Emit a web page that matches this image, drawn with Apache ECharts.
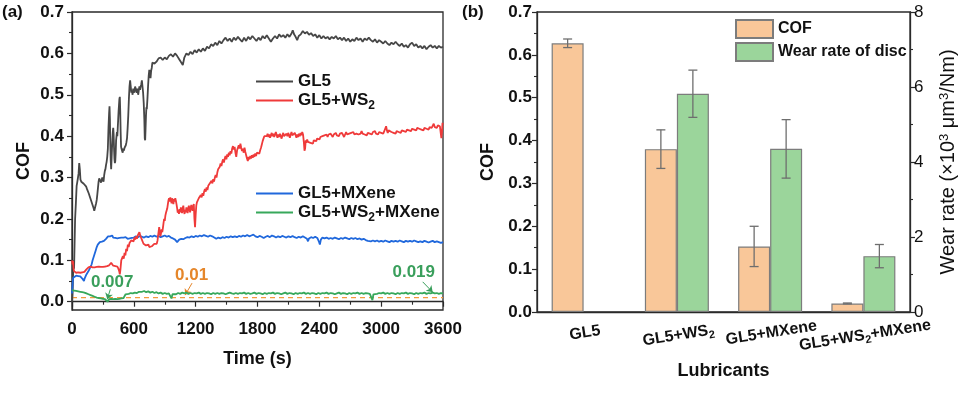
<!DOCTYPE html>
<html><head><meta charset="utf-8">
<script src="https://cdn.jsdelivr.net/npm/echarts@6/dist/echarts.min.js"></script>
<style>html,body{margin:0;padding:0;background:#fff}#c{width:960px;height:396px}</style>
</head><body><div id="c"></div>
<script>
// ---------- Panel (a): COF vs time ----------
const seriesNamesA = ['GL5', 'GL5+WS₂', 'GL5+MXene', 'GL5+WS₂+MXene'];
const gl5 = [[0,0.0],[5,0.02],[10,0.06],[15,0.1],[20,0.08],[25,0.14],[30,0.2],[38,0.24],[45,0.28],[52,0.29],[58,0.3],[64,0.31],[70,0.335],[76,0.32],[82,0.295],[90,0.29],[98,0.288],[106,0.292],[114,0.285],[122,0.282],[130,0.283],[138,0.278],[146,0.272],[154,0.268],[162,0.262],[170,0.258],[178,0.25],[186,0.244],[194,0.238],[202,0.232],[210,0.226],[216,0.22],[222,0.226],[228,0.232],[234,0.238],[240,0.246],[246,0.26],[252,0.275],[258,0.29],[264,0.298],[270,0.302],[276,0.296],[282,0.288],[288,0.292],[294,0.3],[300,0.296],[306,0.29],[312,0.305],[318,0.315],[324,0.32],[330,0.33],[336,0.338],[342,0.35],[348,0.37],[354,0.42],[360,0.455],[364,0.472],[368,0.44],[372,0.38],[376,0.34],[380,0.32],[384,0.345],[388,0.37],[392,0.39],[396,0.41],[400,0.42],[404,0.405],[408,0.37],[412,0.345],[416,0.335],[420,0.34],[424,0.36],[428,0.39],[432,0.4],[436,0.41],[440,0.4],[444,0.42],[448,0.44],[452,0.46],[456,0.475],[460,0.49],[464,0.495],[468,0.46],[472,0.41],[476,0.375],[480,0.37],[486,0.365],[492,0.36],[498,0.37],[504,0.365],[510,0.372],[516,0.368],[522,0.378],[528,0.385],[534,0.395],[540,0.42],[546,0.45],[552,0.49],[558,0.52],[564,0.535],[570,0.52],[576,0.505],[582,0.51],[588,0.5],[594,0.515],[600,0.512],[606,0.505],[612,0.52],[618,0.515],[624,0.51],[630,0.505],[636,0.515],[642,0.5],[648,0.51],[654,0.52],[660,0.512],[666,0.52],[672,0.525],[678,0.535],[684,0.52],[690,0.505],[696,0.48],[702,0.44],[706,0.395],[710,0.39],[714,0.42],[718,0.45],[722,0.47],[726,0.465],[732,0.49],[738,0.52],[744,0.545],[750,0.56],[756,0.555],[762,0.54],[768,0.558],[774,0.565],[780,0.578],[786,0.582],[792,0.575],[800,0.575],[820,0.58],[840,0.588],[860,0.59],[880,0.584],[900,0.59],[920,0.586],[940,0.594],[960,0.598],[980,0.592],[1000,0.6],[1020,0.594],[1040,0.586],[1060,0.578],[1075,0.572],[1090,0.59],[1110,0.6],[1130,0.596],[1150,0.604],[1170,0.598],[1190,0.608],[1210,0.602],[1230,0.61],[1250,0.604],[1270,0.612],[1290,0.606],[1310,0.616],[1330,0.612],[1350,0.622],[1370,0.618],[1390,0.626],[1410,0.62],[1430,0.63],[1450,0.624],[1470,0.632],[1490,0.638],[1510,0.63],[1530,0.636],[1550,0.628],[1570,0.638],[1590,0.632],[1610,0.64],[1630,0.634],[1650,0.628],[1670,0.638],[1690,0.63],[1710,0.64],[1730,0.634],[1750,0.642],[1770,0.636],[1790,0.63],[1810,0.638],[1830,0.632],[1850,0.642],[1870,0.636],[1890,0.644],[1910,0.636],[1930,0.628],[1950,0.636],[1970,0.642],[1990,0.636],[2010,0.646],[2030,0.64],[2050,0.644],[2070,0.638],[2090,0.646],[2110,0.64],[2130,0.648],[2142,0.656],[2155,0.646],[2170,0.64],[2185,0.632],[2200,0.642],[2220,0.646],[2240,0.654],[2260,0.648],[2280,0.652],[2300,0.645],[2320,0.649],[2340,0.642],[2360,0.646],[2380,0.638],[2400,0.644],[2420,0.636],[2440,0.642],[2460,0.636],[2480,0.64],[2500,0.634],[2520,0.64],[2540,0.636],[2560,0.642],[2580,0.634],[2600,0.638],[2620,0.632],[2640,0.638],[2660,0.63],[2680,0.636],[2700,0.628],[2720,0.634],[2740,0.63],[2760,0.638],[2780,0.632],[2800,0.636],[2820,0.628],[2840,0.636],[2860,0.632],[2880,0.638],[2900,0.632],[2920,0.628],[2940,0.634],[2960,0.626],[2980,0.632],[3000,0.628],[3020,0.624],[3040,0.63],[3060,0.624],[3080,0.62],[3100,0.626],[3120,0.622],[3140,0.628],[3160,0.622],[3180,0.618],[3200,0.624],[3220,0.616],[3240,0.62],[3260,0.614],[3280,0.622],[3300,0.626],[3320,0.618],[3340,0.622],[3360,0.614],[3380,0.618],[3400,0.612],[3420,0.618],[3440,0.61],[3460,0.616],[3480,0.62],[3500,0.614],[3520,0.618],[3540,0.612],[3560,0.618],[3580,0.614],[3600,0.616]];
const gl5ws2 = [[0,0.1],[5,0.09],[10,0.098],[15,0.08],[20,0.074],[30,0.072],[40,0.07],[50,0.073],[60,0.071],[70,0.072],[80,0.07],[90,0.073],[100,0.071],[110,0.074],[120,0.072],[130,0.075],[140,0.078],[150,0.08],[160,0.083],[170,0.082],[180,0.085],[190,0.084],[200,0.083],[210,0.085],[220,0.083],[230,0.086],[240,0.084],[250,0.082],[260,0.085],[270,0.083],[280,0.084],[290,0.086],[300,0.084],[310,0.087],[320,0.085],[330,0.088],[340,0.086],[350,0.09],[360,0.088],[370,0.092],[380,0.094],[390,0.09],[400,0.087],[410,0.084],[420,0.086],[430,0.082],[440,0.085],[450,0.08],[458,0.074],[464,0.066],[470,0.078],[478,0.1],[486,0.096],[494,0.11],[502,0.104],[510,0.118],[518,0.112],[526,0.128],[534,0.122],[542,0.138],[550,0.132],[558,0.142],[566,0.138],[574,0.148],[582,0.144],[590,0.152],[598,0.146],[606,0.155],[614,0.15],[622,0.158],[630,0.152],[638,0.16],[646,0.164],[654,0.168],[662,0.16],[670,0.156],[678,0.15],[686,0.145],[694,0.14],[702,0.136],[710,0.142],[718,0.136],[726,0.14],[734,0.134],[742,0.138],[750,0.132],[758,0.136],[766,0.13],[774,0.134],[782,0.138],[790,0.132],[798,0.14],[806,0.136],[814,0.144],[822,0.14],[830,0.148],[838,0.144],[846,0.18],[852,0.17],[858,0.158],[864,0.166],[870,0.175],[876,0.168],[882,0.178],[888,0.19],[894,0.2],[900,0.195],[906,0.208],[912,0.215],[918,0.212],[924,0.225],[930,0.235],[936,0.245],[942,0.25],[948,0.242],[954,0.252],[960,0.246],[966,0.238],[972,0.25],[978,0.244],[984,0.236],[990,0.248],[996,0.242],[1002,0.25],[1008,0.244],[1014,0.236],[1020,0.226],[1026,0.215],[1032,0.222],[1038,0.212],[1044,0.224],[1050,0.216],[1056,0.228],[1062,0.22],[1068,0.214],[1074,0.226],[1080,0.232],[1086,0.22],[1092,0.212],[1098,0.222],[1104,0.216],[1110,0.228],[1116,0.22],[1122,0.214],[1128,0.226],[1134,0.232],[1140,0.222],[1146,0.216],[1152,0.228],[1158,0.234],[1164,0.226],[1170,0.22],[1176,0.23],[1182,0.236],[1188,0.2],[1194,0.18],[1200,0.21],[1206,0.232],[1212,0.24],[1218,0.236],[1224,0.244],[1230,0.25],[1236,0.246],[1242,0.254],[1250,0.258],[1258,0.252],[1266,0.262],[1274,0.256],[1282,0.266],[1290,0.272],[1298,0.266],[1306,0.276],[1314,0.27],[1322,0.28],[1330,0.276],[1338,0.286],[1346,0.282],[1354,0.292],[1362,0.286],[1370,0.296],[1378,0.29],[1386,0.3],[1394,0.306],[1402,0.3],[1410,0.312],[1418,0.32],[1426,0.316],[1434,0.326],[1442,0.334],[1450,0.328],[1458,0.338],[1466,0.344],[1474,0.336],[1482,0.346],[1490,0.352],[1498,0.344],[1506,0.356],[1514,0.35],[1522,0.36],[1530,0.354],[1538,0.364],[1546,0.358],[1554,0.37],[1562,0.376],[1570,0.368],[1578,0.374],[1586,0.36],[1594,0.35],[1602,0.366],[1610,0.372],[1618,0.378],[1626,0.37],[1634,0.382],[1642,0.372],[1650,0.364],[1658,0.37],[1666,0.36],[1674,0.372],[1682,0.362],[1690,0.354],[1698,0.346],[1706,0.34],[1714,0.35],[1722,0.344],[1730,0.352],[1738,0.346],[1746,0.354],[1754,0.348],[1762,0.356],[1770,0.35],[1778,0.358],[1786,0.352],[1794,0.36],[1802,0.356],[1810,0.364],[1818,0.358],[1826,0.366],[1834,0.372],[1842,0.38],[1850,0.388],[1858,0.394],[1866,0.4],[1874,0.396],[1882,0.404],[1890,0.4],[1898,0.406],[1906,0.398],[1914,0.404],[1922,0.396],[1930,0.402],[1938,0.408],[1946,0.4],[1954,0.406],[1962,0.398],[1970,0.404],[1978,0.41],[1986,0.402],[1994,0.396],[2002,0.404],[2010,0.398],[2018,0.406],[2026,0.4],[2034,0.394],[2042,0.402],[2050,0.408],[2058,0.4],[2066,0.404],[2074,0.398],[2082,0.406],[2090,0.4],[2098,0.408],[2106,0.402],[2114,0.396],[2122,0.404],[2130,0.41],[2138,0.402],[2146,0.406],[2154,0.4],[2162,0.408],[2170,0.402],[2178,0.396],[2186,0.404],[2194,0.398],[2202,0.406],[2210,0.4],[2218,0.408],[2226,0.402],[2234,0.41],[2242,0.404],[2250,0.385],[2256,0.365],[2262,0.37],[2268,0.39],[2274,0.384],[2282,0.392],[2290,0.386],[2298,0.382],[2306,0.39],[2314,0.384],[2322,0.38],[2330,0.388],[2338,0.382],[2346,0.39],[2354,0.386],[2362,0.392],[2370,0.388],[2378,0.394],[2386,0.39],[2394,0.396],[2402,0.392],[2410,0.398],[2420,0.394],[2430,0.4],[2440,0.396],[2450,0.402],[2460,0.398],[2470,0.404],[2480,0.398],[2490,0.404],[2500,0.4],[2510,0.406],[2520,0.402],[2530,0.398],[2540,0.404],[2550,0.4],[2560,0.408],[2570,0.402],[2580,0.406],[2590,0.4],[2600,0.406],[2610,0.402],[2620,0.408],[2630,0.404],[2640,0.398],[2650,0.404],[2660,0.41],[2670,0.404],[2680,0.4],[2690,0.406],[2700,0.402],[2710,0.408],[2720,0.404],[2730,0.41],[2740,0.404],[2750,0.4],[2760,0.406],[2770,0.41],[2780,0.404],[2790,0.4],[2800,0.406],[2810,0.412],[2820,0.406],[2830,0.41],[2840,0.404],[2850,0.408],[2860,0.402],[2870,0.408],[2880,0.412],[2890,0.406],[2900,0.41],[2910,0.404],[2920,0.41],[2930,0.406],[2940,0.412],[2950,0.406],[2960,0.41],[2970,0.404],[2980,0.41],[2990,0.414],[3000,0.408],[3010,0.412],[3020,0.406],[3030,0.412],[3040,0.416],[3048,0.424],[3056,0.414],[3064,0.408],[3072,0.414],[3080,0.41],[3090,0.416],[3100,0.41],[3110,0.414],[3120,0.408],[3130,0.412],[3140,0.406],[3150,0.412],[3160,0.416],[3170,0.41],[3180,0.414],[3190,0.408],[3200,0.414],[3210,0.418],[3220,0.412],[3230,0.416],[3240,0.41],[3250,0.416],[3260,0.42],[3270,0.414],[3280,0.418],[3290,0.412],[3300,0.418],[3310,0.422],[3320,0.416],[3330,0.42],[3340,0.414],[3350,0.42],[3360,0.424],[3370,0.418],[3380,0.422],[3390,0.416],[3400,0.42],[3410,0.414],[3420,0.42],[3430,0.424],[3440,0.418],[3450,0.422],[3460,0.416],[3470,0.422],[3480,0.426],[3490,0.42],[3500,0.424],[3510,0.43],[3520,0.422],[3530,0.426],[3540,0.42],[3550,0.426],[3560,0.43],[3570,0.424],[3578,0.428],[3584,0.395],[3590,0.41],[3595,0.432],[3600,0.428]];
const gl5mx = [[0,0.02],[4,0.035],[8,0.05],[12,0.058],[20,0.062],[30,0.06],[40,0.063],[50,0.06],[60,0.062],[70,0.059],[80,0.061],[90,0.058],[100,0.056],[110,0.053],[116,0.05],[122,0.056],[130,0.06],[140,0.066],[150,0.07],[160,0.074],[170,0.078],[180,0.084],[190,0.09],[200,0.1],[210,0.108],[220,0.116],[230,0.124],[240,0.132],[250,0.138],[260,0.142],[270,0.144],[280,0.146],[290,0.145],[300,0.148],[310,0.147],[320,0.15],[330,0.152],[340,0.155],[350,0.158],[360,0.16],[370,0.158],[380,0.156],[390,0.16],[400,0.155],[410,0.157],[420,0.154],[430,0.156],[440,0.153],[450,0.156],[460,0.154],[470,0.157],[480,0.155],[490,0.152],[500,0.155],[510,0.153],[520,0.156],[530,0.154],[540,0.152],[550,0.155],[560,0.153],[570,0.156],[580,0.154],[590,0.157],[600,0.155],[620,0.158],[640,0.156],[660,0.159],[680,0.157],[700,0.155],[720,0.158],[740,0.156],[760,0.159],[780,0.157],[800,0.16],[820,0.157],[840,0.159],[860,0.156],[880,0.158],[900,0.16],[920,0.157],[940,0.159],[960,0.155],[980,0.153],[1000,0.15],[1010,0.146],[1020,0.144],[1030,0.147],[1040,0.15],[1060,0.152],[1080,0.151],[1100,0.154],[1120,0.156],[1140,0.155],[1160,0.158],[1180,0.156],[1200,0.159],[1220,0.157],[1240,0.16],[1260,0.158],[1280,0.161],[1300,0.159],[1320,0.157],[1340,0.16],[1360,0.158],[1380,0.155],[1400,0.152],[1420,0.155],[1440,0.153],[1460,0.156],[1480,0.154],[1500,0.157],[1520,0.155],[1540,0.158],[1560,0.156],[1580,0.158],[1600,0.156],[1620,0.159],[1640,0.157],[1660,0.16],[1680,0.158],[1700,0.161],[1720,0.158],[1740,0.16],[1760,0.162],[1780,0.158],[1800,0.156],[1820,0.159],[1840,0.157],[1860,0.154],[1880,0.157],[1900,0.159],[1920,0.156],[1940,0.16],[1960,0.158],[1980,0.155],[2000,0.158],[2020,0.156],[2040,0.159],[2060,0.157],[2080,0.155],[2100,0.158],[2120,0.156],[2140,0.159],[2160,0.156],[2180,0.154],[2200,0.157],[2220,0.155],[2240,0.158],[2260,0.155],[2280,0.152],[2290,0.146],[2300,0.153],[2320,0.156],[2340,0.154],[2360,0.157],[2380,0.154],[2395,0.146],[2405,0.138],[2415,0.15],[2430,0.155],[2450,0.153],[2470,0.155],[2490,0.152],[2510,0.154],[2530,0.152],[2550,0.155],[2570,0.153],[2590,0.151],[2610,0.154],[2630,0.152],[2650,0.155],[2670,0.153],[2690,0.151],[2710,0.154],[2730,0.152],[2750,0.154],[2770,0.151],[2790,0.153],[2810,0.15],[2830,0.152],[2850,0.149],[2870,0.147],[2885,0.145],[2900,0.146],[2920,0.148],[2940,0.146],[2960,0.148],[2980,0.145],[3000,0.147],[3020,0.145],[3040,0.148],[3060,0.146],[3080,0.144],[3100,0.147],[3120,0.145],[3140,0.147],[3160,0.145],[3180,0.148],[3200,0.146],[3220,0.144],[3240,0.147],[3260,0.145],[3280,0.147],[3300,0.145],[3320,0.148],[3340,0.146],[3360,0.144],[3380,0.146],[3400,0.144],[3420,0.147],[3440,0.145],[3460,0.143],[3480,0.145],[3500,0.147],[3520,0.144],[3540,0.146],[3560,0.144],[3580,0.142],[3600,0.144]];
const gl5ws2mx = [[0,0.028],[20,0.027],[40,0.026],[60,0.025],[80,0.024],[100,0.023],[120,0.022],[140,0.02],[160,0.018],[180,0.016],[200,0.014],[220,0.012],[240,0.01],[260,0.009],[280,0.008],[300,0.007],[320,0.006],[335,0.004],[345,0.0],[352,0.003],[360,0.006],[380,0.007],[400,0.006],[420,0.007],[440,0.006],[460,0.007],[480,0.008],[500,0.009],[510,0.012],[520,0.018],[530,0.02],[550,0.019],[570,0.021],[590,0.02],[610,0.022],[630,0.021],[650,0.024],[665,0.027],[680,0.024],[700,0.026],[720,0.023],[740,0.025],[760,0.022],[780,0.024],[800,0.021],[820,0.023],[840,0.02],[860,0.022],[880,0.019],[900,0.021],[920,0.019],[940,0.02],[955,0.017],[965,0.008],[975,0.018],[990,0.02],[1010,0.018],[1030,0.021],[1050,0.019],[1070,0.022],[1090,0.02],[1110,0.022],[1130,0.019],[1150,0.021],[1170,0.019],[1190,0.021],[1210,0.02],[1230,0.022],[1250,0.019],[1270,0.021],[1290,0.019],[1310,0.021],[1330,0.02],[1350,0.018],[1370,0.021],[1390,0.019],[1410,0.021],[1430,0.019],[1450,0.021],[1470,0.02],[1490,0.018],[1510,0.02],[1530,0.022],[1550,0.02],[1570,0.019],[1590,0.021],[1610,0.019],[1630,0.021],[1650,0.02],[1670,0.022],[1690,0.019],[1710,0.021],[1730,0.019],[1750,0.02],[1770,0.022],[1790,0.019],[1810,0.021],[1830,0.02],[1850,0.018],[1870,0.021],[1890,0.019],[1910,0.021],[1930,0.02],[1950,0.022],[1970,0.019],[1990,0.021],[2010,0.02],[2030,0.018],[2050,0.02],[2070,0.022],[2090,0.019],[2110,0.021],[2130,0.02],[2150,0.018],[2170,0.021],[2190,0.019],[2210,0.021],[2230,0.02],[2250,0.022],[2270,0.019],[2290,0.021],[2310,0.019],[2330,0.021],[2350,0.02],[2370,0.018],[2390,0.021],[2410,0.019],[2430,0.021],[2450,0.02],[2470,0.022],[2490,0.019],[2510,0.021],[2530,0.02],[2550,0.018],[2570,0.02],[2590,0.022],[2610,0.019],[2630,0.021],[2650,0.02],[2670,0.018],[2690,0.021],[2710,0.019],[2730,0.021],[2750,0.02],[2770,0.022],[2790,0.019],[2810,0.021],[2830,0.019],[2850,0.021],[2870,0.02],[2890,0.019],[2905,0.018],[2915,0.004],[2925,0.018],[2940,0.021],[2960,0.019],[2980,0.021],[3000,0.02],[3020,0.022],[3040,0.019],[3060,0.021],[3080,0.019],[3100,0.021],[3120,0.02],[3140,0.018],[3160,0.021],[3180,0.019],[3200,0.021],[3220,0.02],[3240,0.022],[3260,0.019],[3280,0.021],[3300,0.02],[3320,0.018],[3340,0.021],[3360,0.019],[3380,0.021],[3400,0.02],[3420,0.022],[3440,0.019],[3460,0.021],[3480,0.02],[3500,0.022],[3520,0.02],[3540,0.021],[3560,0.019],[3580,0.021],[3600,0.02]];
const refLineA = [[0, 0.01], [3600, 0.01]];
const yTicksA = [0, 0.1, 0.2, 0.3, 0.4, 0.5, 0.6, 0.7];
// annotations: text, text position, arrow start, arrow end (data units)
const annotations = [
  {text: '0.007', color: '#3a9f5c', at: [390, 0.0476], from: [372, 0.030], to: [342, 0.006]},
  {text: '0.01',  color: '#e5862a', at: [1160, 0.0645], from: [1165, 0.045], to: [1098, 0.016]},
  {text: '0.019', color: '#3a9f5c', at: [3316, 0.072], from: [3403, 0.048], to: [3500, 0.023]}
];

// ---------- Panel (b): bars ----------
const categoriesB = ['GL5', 'GL5+WS₂', 'GL5+MXene', 'GL5+WS₂+MXene'];
const cofMean = [0.627, 0.380, 0.153, 0.020];
const cofErr = [0.010, 0.045, 0.047, 0.001];
const wearMean = [null, 5.82, 4.35, 1.49];
const wearErr = [null, 0.63, 0.78, 0.31];

const FONT = 'Liberation Sans, Arial, sans-serif';
const AX = '#2a2a2a';
const BAR_W = 32;
const colorsA = ['#474747', '#ef3a3a', '#2068dc', '#37a85b'];
const subFmt = s => s.replace(/₂/g, '{sub|2}');
const subRich = (size) => ({sub: {fontFamily: FONT, fontSize: size, fontWeight: 'bold', color: '#111', padding: [10, 0, 0, 0]}});

const chart = echarts.init(document.getElementById('c'), null, {renderer: 'canvas'});

function errRender(side, color) {
  return function (params, api) {
    const i = api.value(0), m = api.value(1), e = api.value(2);
    const hi = api.coord([i, m + e]), lo = api.coord([i, m - e]);
    const x = hi[0] + side * BAR_W / 2, cap = 4.5;
    const st = {stroke: color, lineWidth: 1.3};
    return {type: 'group', children: [
      {type: 'line', shape: {x1: x, y1: hi[1], x2: x, y2: lo[1]}, style: st},
      {type: 'line', shape: {x1: x - cap, y1: hi[1], x2: x + cap, y2: hi[1]}, style: st},
      {type: 'line', shape: {x1: x - cap, y1: lo[1], x2: x + cap, y2: lo[1]}, style: st}
    ]};
  };
}
const cofErrData = cofMean.map((m, i) => [i, m, cofErr[i]]);
const wearErrData = wearMean.map((m, i) => [i, m, wearErr[i]]).filter(d => d[1] != null);

const axisCommon = {
  axisLine: {show: true, lineStyle: {color: AX, width: 1.3}},
  axisTick: {show: true, inside: false, length: 5, lineStyle: {color: AX, width: 1.2}},
  minorTick: {show: true, splitNumber: 2, length: 3, lineStyle: {color: AX, width: 1.1}},
  splitLine: {show: false},
  axisLabel: {fontFamily: FONT, fontSize: 17, fontWeight: 'bold', color: '#111'},
  nameTextStyle: {fontFamily: FONT, fontSize: 18, fontWeight: 'bold', color: '#111'}
};
function ax(extra) { return echarts.util.merge(echarts.util.clone(axisCommon), extra, true); }

const option = {
  animation: false,
  backgroundColor: '#fff',
  textStyle: {fontFamily: FONT},
  title: [
    {text: '(a)', left: 2, top: 4, padding: 0, textStyle: {fontFamily: FONT, fontSize: 17, fontWeight: 'bold', color: '#111'}},
    {text: '(b)', left: 462, top: 4, padding: 0, textStyle: {fontFamily: FONT, fontSize: 17, fontWeight: 'bold', color: '#111'}}
  ],
  grid: [
    {left: 72, right: 517, top: 12, bottom: 86, show: true, borderColor: AX, borderWidth: 1.3, backgroundColor: 'transparent'},
    {left: 537, right: 50, top: 12, bottom: 84, show: true, borderColor: AX, borderWidth: 1.3, backgroundColor: 'transparent'}
  ],
  legend: [
    {left: 256, top: 73, padding: 0, orient: 'vertical', icon: 'rect', itemWidth: 37, itemHeight: 2, itemGap: 2,
     data: [seriesNamesA[0], seriesNamesA[1]], formatter: subFmt,
     textStyle: {fontFamily: FONT, fontSize: 17, fontWeight: 'bold', color: '#111', rich: subRich(12)}},
    {left: 256, top: 185, padding: 0, orient: 'vertical', icon: 'rect', itemWidth: 37, itemHeight: 2, itemGap: 2,
     data: [seriesNamesA[2], seriesNamesA[3]], formatter: subFmt,
     textStyle: {fontFamily: FONT, fontSize: 17, fontWeight: 'bold', color: '#111', rich: subRich(12)}},
    {left: 735, top: 19, padding: 0, orient: 'vertical', icon: 'rect', itemWidth: 37, itemHeight: 18, itemGap: 3,
     data: ['COF', 'Wear rate of disc'],
     textStyle: {fontFamily: FONT, fontSize: 16, fontWeight: 'bold', color: '#111'}}
  ],
  xAxis: [
    ax({gridIndex: 0, type: 'value', min: 0, max: 3600, interval: 600,
        name: 'Time (s)', nameLocation: 'middle', nameGap: 40,
        axisLabel: {margin: 11, formatter: v => String(v)}}),
    ax({gridIndex: 1, type: 'category', data: categoriesB, boundaryGap: true,
        axisTick: {show: false}, minorTick: {show: false},
        name: 'Lubricants', nameLocation: 'middle', nameGap: 41,
        axisLabel: {rotate: 9, align: 'center', verticalAlign: 'top', margin: 13, interval: 0, fontSize: 16,
                    formatter: subFmt, rich: subRich(11)}})
  ],
  yAxis: [
    ax({gridIndex: 0, type: 'value', min: -0.02, max: 0.7, splitNumber: 7,
        name: 'COF', nameLocation: 'middle', nameGap: 39,
        axisTick: {customValues: yTicksA},
        axisLabel: {margin: 8, customValues: yTicksA, formatter: v => v.toFixed(1)}}),
    ax({gridIndex: 1, type: 'value', min: 0, max: 0.7, interval: 0.1, position: 'left',
        name: 'COF', nameLocation: 'middle', nameGap: 40,
        axisLabel: {margin: 5, formatter: v => v.toFixed(1)}}),
    ax({gridIndex: 1, type: 'value', min: 0, max: 8, interval: 2, position: 'right',
        name: 'Wear rate (×10{sup|3} μm{sup|3}/Nm)', nameLocation: 'middle', nameGap: 28,
        nameTextStyle: {fontWeight: 'normal', fontSize: 20,
          rich: {sup: {fontFamily: FONT, fontSize: 13, fontWeight: 'normal', color: '#111', verticalAlign: 'top', padding: [0, 0, 4, 0]}}},
        axisLabel: {margin: 4, fontWeight: 'normal'}})
  ],
  series: [
    {name: seriesNamesA[0], type: 'line', xAxisIndex: 0, yAxisIndex: 0, data: gl5, showSymbol: false,
     lineStyle: {width: 1.8, color: colorsA[0]}, itemStyle: {color: colorsA[0]}, z: 3},
    {name: seriesNamesA[1], type: 'line', xAxisIndex: 0, yAxisIndex: 0, data: gl5ws2, showSymbol: false,
     lineStyle: {width: 1.8, color: colorsA[1]}, itemStyle: {color: colorsA[1]}, z: 4},
    {name: seriesNamesA[2], type: 'line', xAxisIndex: 0, yAxisIndex: 0, data: gl5mx, showSymbol: false,
     lineStyle: {width: 1.8, color: colorsA[2]}, itemStyle: {color: colorsA[2]}, z: 3},
    {name: 'ref', type: 'line', xAxisIndex: 0, yAxisIndex: 0, data: refLineA, showSymbol: false,
     lineStyle: {width: 1.3, color: '#f29a3c', type: [5, 4]}, itemStyle: {color: '#f29a3c'}, z: 2, silent: true},
    {name: seriesNamesA[3], type: 'line', xAxisIndex: 0, yAxisIndex: 0, data: gl5ws2mx, showSymbol: false,
     lineStyle: {width: 1.8, color: colorsA[3]}, itemStyle: {color: colorsA[3]}, z: 5,
     markLine: {silent: true, symbol: ['none', 'arrow'], symbolSize: 6, label: {show: false},
       data: annotations.map(a => [{coord: a.from, lineStyle: {color: a.color, width: 1, type: 'solid'}}, {coord: a.to}])},
     markPoint: {silent: true, symbol: 'circle', symbolSize: 1, itemStyle: {color: 'rgba(0,0,0,0)'},
       data: annotations.map(a => ({name: a.text, coord: a.at,
         label: {show: true, position: 'inside', formatter: '{b}', fontFamily: FONT, fontSize: 17, fontWeight: 'bold', color: a.color}}))}},
    {name: 'COF', type: 'bar', xAxisIndex: 1, yAxisIndex: 1, data: cofMean, barWidth: BAR_W, barGap: '0%',
     itemStyle: {color: '#f9c799', borderColor: '#7c7c7c', borderWidth: 1.2}},
    {name: 'Wear rate of disc', type: 'bar', xAxisIndex: 1, yAxisIndex: 2, data: wearMean, barWidth: BAR_W, barGap: '0%',
     itemStyle: {color: '#9bd59b', borderColor: '#7c7c7c', borderWidth: 1.2}},
    {name: 'cofErr', type: 'custom', xAxisIndex: 1, yAxisIndex: 1, data: cofErrData, renderItem: errRender(-1, '#6e6e6e'), z: 10, silent: true},
    {name: 'wearErr', type: 'custom', xAxisIndex: 1, yAxisIndex: 2, data: wearErrData, renderItem: errRender(1, '#6e6e6e'), z: 10, silent: true}
  ]
};
chart.setOption(option);
</script>
</body></html>
